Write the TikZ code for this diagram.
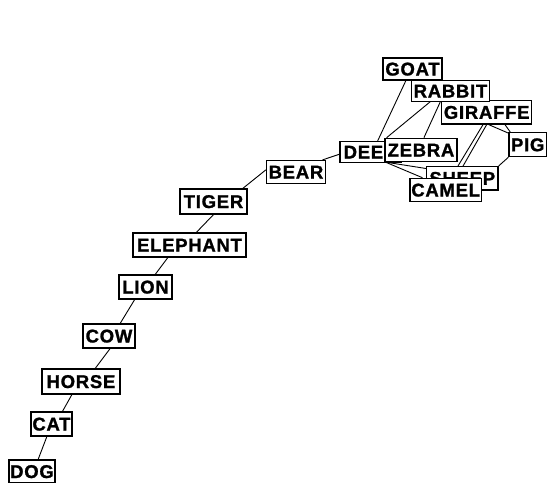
\documentclass[tikz,border=0pt]{standalone}
\usepackage{fontspec}
\setmainfont{Liberation Sans}
\newfontfamily\labelfont[LetterSpace=4, BoldFeatures={FakeBold=1.2}]{Liberation Sans}
\usetikzlibrary{calc}
\pgfdeclarelayer{bg}
\pgfsetlayers{bg,main}
\tikzset{
  animal/.style={draw=black, fill=white, line width=1.2pt, inner sep=0pt,
    text height=13pt, text depth=0pt, align=center,
    font=\labelfont\fontsize{18.5}{18.5}\selectfont\bfseries},
  link/.style={draw=black, line width=0.9pt}
}
\begin{document}
\begin{tikzpicture}[x=1pt,y=-1pt]
\useasboundingbox (0,0) rectangle (548,482);
% chain
\node[animal, minimum width=46pt, minimum height=23pt] (dog) at (32,471.5) {DOG};
\node[animal, minimum width=41pt, minimum height=24pt] (cat) at (51.5,424) {CAT};
\node[animal, minimum width=78pt, minimum height=25pt] (horse) at (81,381.5) {HORSE};
\node[animal, minimum width=52pt, minimum height=24pt] (cow) at (109,336) {COW};
\node[animal, minimum width=53pt, minimum height=24pt] (lion) at (145.5,287) {LION};
\node[animal, minimum width=113pt, minimum height=24pt] (elephant) at (189.5,245) {ELEPHANT};
\node[animal, minimum width=67pt, minimum height=25pt] (tiger) at (213.5,201.5) {TIGER};
\node[animal, minimum width=59pt, minimum height=23pt] (bear) at (296,172) {BEAR};
% cluster
\node[animal, minimum width=61pt, minimum height=21pt] (deer) at (370.5,152) {DEER};
\node[animal, minimum width=72pt, minimum height=23.4pt] (zebra) at (421,150) {ZEBRA};
\node[animal, minimum width=71.3pt, minimum height=23.3pt] (sheep) at (462.3,178.3) {SHEEP};
\node[animal, minimum width=71.5pt, minimum height=23.4pt] (camel) at (445.7,190) {CAMEL};
\node[animal, minimum width=90pt, minimum height=23.3pt] (giraffe) at (486.7,112.3) {GIRAFFE};
\node[animal, minimum width=77.6pt, minimum height=20.6pt] (rabbit) at (450.5,91) {RABBIT};
\node[animal, minimum width=59pt, minimum height=22pt] (goat) at (412.5,69) {GOAT};
\node[animal, minimum width=37.5pt, minimum height=24pt] (pig) at (527.7,144.7) {PIG};
\begin{pgfonlayer}{bg}
\draw[link] ($(cat.south west)!0.39!(cat.south east)$) -- ($(dog.north west)!0.63!(dog.north east)$);
\draw[link] ($(horse.south west)!0.385!(horse.south east)$) -- ($(cat.north west)!0.76!(cat.north east)$);
\draw[link] ($(cow.south west)!0.52!(cow.south east)$) -- ($(horse.north west)!0.68!(horse.north east)$);
\draw[link] ($(lion.south west)!0.30!(lion.south east)$) -- ($(cow.north west)!0.71!(cow.north east)$);
\draw[link] ($(elephant.south west)!0.31!(elephant.south east)$) -- ($(lion.north west)!0.68!(lion.north east)$);
\draw[link] ($(tiger.south west)!0.50!(tiger.south east)$) -- ($(elephant.north west)!0.56!(elephant.north east)$);
\draw[link] ($(bear.north west)!0.41!(bear.south west)$) -- ($(tiger.north west)!0.93!(tiger.north east)$);
\draw[link] ($(bear.north west)!0.94!(bear.north east)$) -- ($(deer.north west)!0.6!(deer.south west)$);
\draw[link] ($(deer.north west)!0.615!(deer.north east)$) -- ($(goat.south west)!0.39!(goat.south east)$);
\draw[link] ($(rabbit.south west)!0.24!(rabbit.south east)$) -- ($(zebra.north west)!0.03!(zebra.north east)$);
\draw[link] ($(rabbit.south west)!0.37!(rabbit.south east)$) -- ($(zebra.north west)!0.54!(zebra.north east)$);
\draw[link] ($(giraffe.south west)!0.52!(giraffe.south east)$) -- ($(pig.north west)!0.04!(pig.south west)$);
\draw[link] ($(giraffe.south west)!0.70!(giraffe.south east)$) -- ($(pig.north west)!0.05!(pig.north east)$);
\draw[link] (pig.south west) -- (sheep.north east);
\draw[link] ($(giraffe.south west)!0.46!(giraffe.south east)$) -- ($(sheep.north west)!0.44!(sheep.north east)$);
\draw[link] ($(giraffe.south west)!0.50!(giraffe.south east)$) -- ($(sheep.north west)!0.51!(sheep.north east)$);
\draw[link] ($(zebra.south west)!0.03!(zebra.south east)$) -- ($(sheep.north west)!0.1!(sheep.south west)$);
\draw[link] ($(zebra.south west)!0.02!(zebra.south east)$) -- ($(camel.north west)!0.18!(camel.north east)$);
\end{pgfonlayer}
\end{tikzpicture}
\end{document}
